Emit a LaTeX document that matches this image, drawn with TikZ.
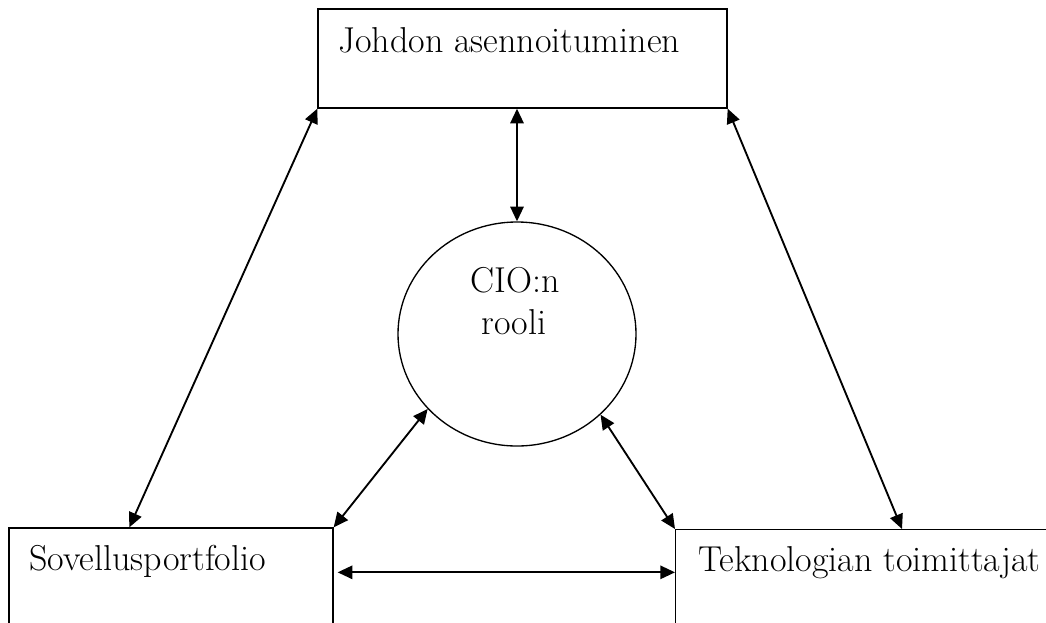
\documentclass[tikz,border=0pt]{standalone}
\usetikzlibrary{arrows.meta,shapes.geometric,calc}
\begin{document}
\begin{tikzpicture}[x=0.75pt,y=-0.75pt,
  box/.style={draw,line width=1pt,rectangle,inner sep=0pt},
  lbl/.style={font=\fontsize{27}{32}\selectfont,inner sep=0pt,anchor=base west},
  clbl/.style={font=\fontsize{27}{32}\selectfont,inner sep=0pt,anchor=base},
  link/.style={line width=1.4pt,{Triangle[length=11pt,width=10pt]}-{Triangle[length=11pt,width=10pt]}}]
\useasboundingbox (0,0) rectangle (1046,622);
\clip (0,0) rectangle (1046,622);
% boxes
\node[box,minimum width=409*0.75pt,minimum height=99*0.75pt] (top) at (522.5,58.5) {};
\node[box,minimum width=324*0.75pt,minimum height=120*0.75pt] (sov) at (171,588) {};
\node[box,minimum width=400*0.75pt,minimum height=120*0.75pt,anchor=north west] (tek) at (675,529) {};
\node[draw,line width=1pt,ellipse,minimum width=238*0.75pt,minimum height=224*0.75pt,inner sep=0pt] (cio) at (517,334) {};
% texts
\node[lbl] (t1) at (338,52) {Johdon asennoituminen};
\node[lbl] (t2) at (29,570) {Sovellusportfolio};
\node[lbl] (t3) at (698,571) {Teknologian toimittajat};
\node[clbl] (t4) at (515,292) {CIO:n};
\node[clbl] (t5) at (514,334) {rooli};
% connectors
\coordinate (sovtop) at ($(sov.north west)+(121,0)$);
\coordinate (tektop) at ($(tek.north west)+(227,0)$);
\coordinate (hl) at ($(sov.north east)+(4,45)$);
\coordinate (hr) at (tek.west |- hl);
\draw[link] (cio.north |- top.south) -- (cio.north);
\draw[link] (sovtop) -- (top.south west);
\draw[link] (tektop) -- (top.south east);
\draw[link] (sov.north east) -- (cio.220);
\draw[link] (tek.north west) -- (cio.316);
\draw[link] (hl) -- (hr);
\end{tikzpicture}
\end{document}
